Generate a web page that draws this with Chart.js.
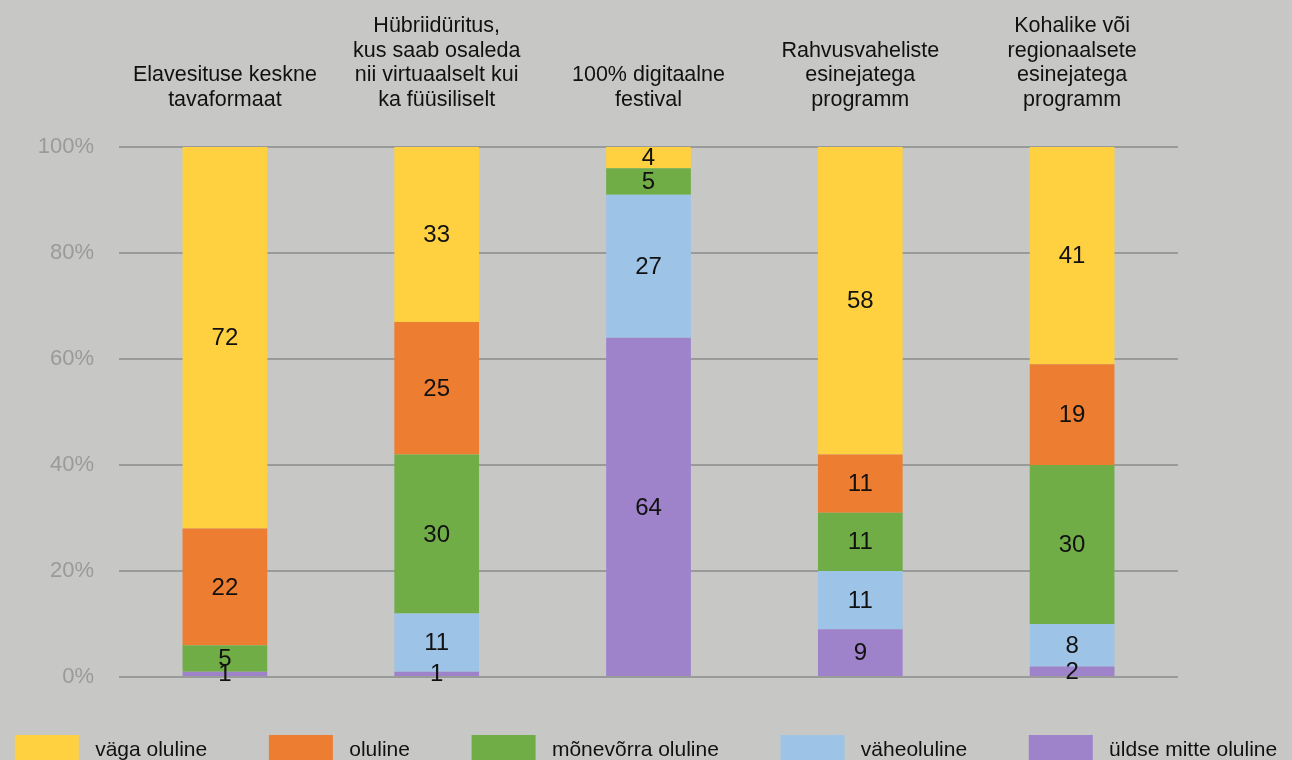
<!DOCTYPE html>
<html>
<head>
<meta charset="utf-8">
<script src="https://cdn.jsdelivr.net/npm/chart.js@4"></script>
<style>
  html, body { margin: 0; padding: 0; background: #c7c8c5; overflow: hidden; }
  #wrap { width: 1292px; height: 775px; }
</style>
</head>
<body>
<div id="wrap"><canvas id="importanceChart"></canvas></div>
<script>
const categories = [
    ['Elavesituse keskne', 'tavaformaat'],
    ['Hübriidüritus,', 'kus saab osaleda', 'nii virtuaalselt kui', 'ka füüsiliselt'],
    ['100% digitaalne', 'festival'],
    ['Rahvusvaheliste', 'esinejatega', 'programm'],
    ['Kohalike või', 'regionaalsete', 'esinejatega', 'programm']
];
const yTicks = [0, 20, 40, 60, 80, 100];

// bottom of the stack first
const yldseMitte = [1, 1, 64, 9, 2];
const vaheoluline = [0, 11, 27, 11, 8];
const monevorra = [5, 30, 5, 11, 30];
const oluline = [22, 25, 0, 11, 19];
const vagaOluline = [72, 33, 4, 58, 41];

const fontFamily = '"Liberation Sans", Arial, sans-serif';

// numbers in the middle of each segment
const segmentLabels = {
    id: 'segmentLabels',
    afterDatasetsDraw(chart) {
        const c = chart.ctx;
        c.save();
        c.font = '24px ' + fontFamily;
        c.fillStyle = '#111';
        c.textAlign = 'center';
        c.textBaseline = 'middle';
        chart.data.datasets.forEach((ds, i) => {
            chart.getDatasetMeta(i).data.forEach((bar, j) => {
                const v = ds.data[j];
                if (!v) return;
                const mid = (bar.y + bar.base) / 2;
                c.fillText(v, bar.x, mid + 1);
            });
        });
        c.restore();
    }
};

const ctx = document.getElementById('importanceChart').getContext('2d');
const importanceChart = new Chart(ctx, {
    type: 'bar',
    data: {
        labels: categories,
        datasets: [
            { label: 'üldse mitte oluline', data: yldseMitte, backgroundColor: '#9e83cb' },
            { label: 'väheoluline', data: vaheoluline, backgroundColor: '#9dc3e6' },
            { label: 'mõnevõrra oluline', data: monevorra, backgroundColor: '#70ad47' },
            { label: 'oluline', data: oluline, backgroundColor: '#ed7d31' },
            { label: 'väga oluline', data: vagaOluline, backgroundColor: '#ffd03f' }
        ]
    },
    options: {
        responsive: true,
        maintainAspectRatio: false,
        animation: false,
        datasets: {
            bar: { categoryPercentage: 1, barPercentage: 0.4, borderWidth: 0 }
        },
        layout: { padding: { left: 0, right: 0, top: -13, bottom: 0 } },
        scales: {
            x: {
                position: 'top',
                stacked: true,
                grid: { display: false },
                border: { display: false },
                ticks: {
                    color: '#111',
                    font: { family: fontFamily, size: 21.5, lineHeight: 1.14 },
                    maxRotation: 0,
                    padding: 27
                }
            },
            // empty axes that keep the margins free
            xBottom: {
                position: 'bottom',
                grid: { display: false },
                border: { display: false },
                ticks: { display: false },
                afterFit(axis) { axis.height = 50; }
            },
            y: {
                stacked: true,
                min: 0,
                max: 100,
                afterBuildTicks(axis) {
                    axis.ticks = yTicks.map(v => ({ value: v }));
                },
                afterFit(axis) { axis.width = 119; },
                grid: { color: '#999a9a', lineWidth: 2, drawTicks: false },
                border: { display: false },
                ticks: {
                    color: '#9a9a9a',
                    font: { family: fontFamily, size: 22 },
                    padding: 25,
                    callback: v => v + '%'
                }
            },
            yRight: {
                position: 'right',
                grid: { display: false },
                border: { display: false },
                ticks: { display: false },
                afterFit(axis) { axis.width = 114; }
            }
        },
        plugins: {
            legend: {
                position: 'bottom',
                reverse: true,
                labels: {
                    boxWidth: 64,
                    boxHeight: 30,
                    padding: 8,
                    color: '#111',
                    font: { family: fontFamily, size: 21 },
                    generateLabels(chart) {
                        const items = Chart.defaults.plugins.legend.labels.generateLabels(chart);
                        items.forEach((it, i) => {
                            // wider gap after each item; index 0 ends up last after reverse
                            const tail = i > 0 ? '\u2003\u2003\u0020\u0020' : '';
                            it.text = ' ' + it.text + tail;
                            it.lineWidth = 0;
                        });
                        return items;
                    }
                }
            },
            tooltip: { enabled: false }
        }
    },
    plugins: [segmentLabels]
});
</script>
</body>
</html>
